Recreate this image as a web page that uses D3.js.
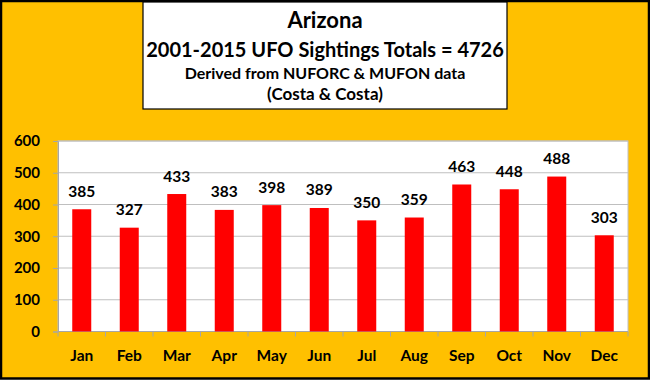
<!DOCTYPE html>
<html><head><meta charset="utf-8">
<script src="https://cdn.jsdelivr.net/npm/d3@7"></script>
<style>html,body{margin:0;padding:0;background:#fff;}svg{display:block;}</style>
</head><body>
<script>
const months = ["Jan","Feb","Mar","Apr","May","Jun","Jul","Aug","Sep","Oct","Nov","Dec"];
const sightings = [385,327,433,383,398,389,350,359,463,448,488,303];
const yTicks = [0,100,200,300,400,500,600];
const titleLines = ["Arizona","2001-2015 UFO Sightings Totals = 4726","Derived from NUFORC & MUFON data","(Costa & Costa)"];

const W = 650, H = 380;
const font = "Lato, 'Open Sans', sans-serif";
const svg = d3.select("body").append("svg").attr("width", W).attr("height", H);

svg.append("rect").attr("x",1).attr("y",1).attr("width",W-2).attr("height",H-2.5)
  .attr("fill","#FFC000").attr("stroke","#000").attr("stroke-width",2.5);

// title box
svg.append("rect").attr("x",143).attr("y",2).attr("width",364).attr("height",107)
  .attr("fill","#fff").attr("stroke","#000").attr("stroke-width",1.2);
const tSizes = [22,20,16,17];
const tY = [27.5,56.5,79,100];
titleLines.forEach((t,i)=>{
  svg.append("text").attr("x",325).attr("y",tY[i]).attr("text-anchor","middle")
    .attr("font-family",font).attr("font-weight","bold").attr("font-size",tSizes[i])
    .attr("fill","#000").text(t);
});

const m = {l:58, r:628, t:141, b:331.5};
const x = d3.scaleBand().domain(months).range([m.l,m.r]).paddingInner(0.6).paddingOuter(0.3);
const y = d3.scaleLinear().domain([0,600]).range([m.b,m.t]);

svg.append("rect").attr("x",m.l).attr("y",m.t).attr("width",m.r-m.l).attr("height",m.b-m.t)
  .attr("fill","#fff").attr("stroke","#bfbfbf").attr("stroke-width",1);

// gridlines
svg.append("g").selectAll("line").data(yTicks).join("line")
  .attr("x1",m.l).attr("x2",m.r).attr("y1",d=>y(d)).attr("y2",d=>y(d))
  .attr("stroke","#bfbfbf").attr("stroke-width",1.2);

// y axis
const yAxis = svg.append("g").attr("transform",`translate(${m.l},0)`)
  .call(d3.axisLeft(y).tickValues(yTicks).tickSize(5).tickPadding(13).tickFormat(d3.format("d")));
yAxis.select(".domain").attr("stroke","#a6a6a6");
yAxis.selectAll(".tick line").attr("stroke","#a6a6a6");
yAxis.selectAll("text").attr("font-family",font).attr("font-weight","bold").attr("font-size",15).attr("fill","#000");

// x axis: ticks at category boundaries
const bounds = d3.range(months.length+1).map(i=>m.l + i*(m.r-m.l)/months.length);
svg.append("line").attr("x1",m.l).attr("x2",m.r).attr("y1",m.b).attr("y2",m.b).attr("stroke","#a6a6a6");
svg.append("g").selectAll("line").data(bounds).join("line")
  .attr("x1",d=>d).attr("x2",d=>d).attr("y1",m.b).attr("y2",m.b+5).attr("stroke","#a6a6a6");
svg.append("g").selectAll("text").data(months).join("text")
  .attr("x",d=>x(d)+x.bandwidth()/2).attr("y",361).attr("text-anchor","middle")
  .attr("font-family",font).attr("font-weight","bold").attr("font-size",15.5).attr("fill","#000").text(d=>d);

// bars
svg.append("g").selectAll("rect").data(sightings).join("rect")
  .attr("x",(d,i)=>x(months[i])).attr("width",x.bandwidth())
  .attr("y",d=>y(d)).attr("height",d=>y(0)-y(d)).attr("fill","#FF0000");

// value labels
svg.append("g").selectAll("text").data(sightings).join("text")
  .attr("x",(d,i)=>x(months[i])+x.bandwidth()/2).attr("y",d=>y(d)-12.5).attr("text-anchor","middle")
  .attr("font-family",font).attr("font-weight","bold").attr("font-size",15.5).attr("fill","#000").text(d=>d);
</script>
</body></html>
